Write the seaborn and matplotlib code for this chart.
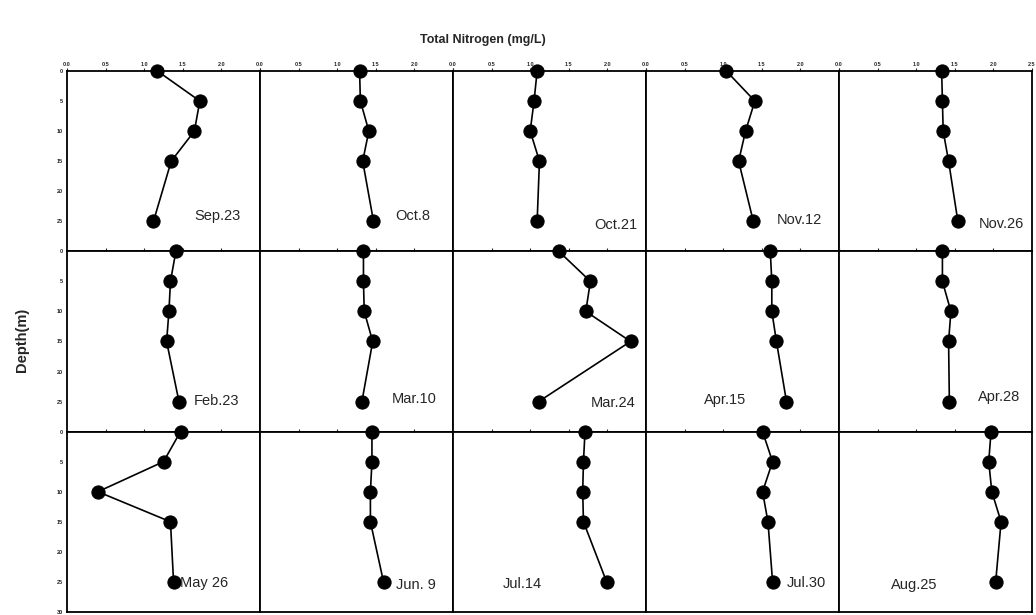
import numpy as np
import pandas as pd
import matplotlib
matplotlib.use("Agg")
import matplotlib.pyplot as plt
import seaborn as sns

# ---------------- data ----------------
depths = [0, 5, 10, 15, 25]

dates = ["Sep.23", "Oct.8", "Oct.21", "Nov.12", "Nov.26",
         "Feb.23", "Mar.10", "Mar.24", "Apr.15", "Apr.28",
         "May 26", "Jun. 9", "Jul.14", "Jul.30", "Aug.25"]

tn_sep23 = [1.17, 1.72, 1.65, 1.35, 1.12]
tn_oct8 = [1.29, 1.30, 1.41, 1.33, 1.47]
tn_oct21 = [1.09, 1.05, 1.00, 1.12, 1.09]
tn_nov12 = [1.04, 1.41, 1.29, 1.20, 1.39]
tn_nov26 = [1.33, 1.34, 1.35, 1.42, 1.54]
tn_feb23 = [1.41, 1.34, 1.32, 1.29, 1.45]
tn_mar10 = [1.34, 1.34, 1.35, 1.46, 1.32]
tn_mar24 = [1.37, 1.78, 1.72, 2.30, 1.11]
tn_apr15 = [1.61, 1.63, 1.63, 1.69, 1.82]
tn_apr28 = [1.34, 1.34, 1.45, 1.42, 1.43]
tn_may26 = [1.47, 1.25, 0.40, 1.34, 1.38]
tn_jun9 = [1.45, 1.45, 1.43, 1.43, 1.60]
tn_jul14 = [1.71, 1.69, 1.68, 1.69, 1.99]
tn_jul30 = [1.51, 1.64, 1.51, 1.58, 1.64]
tn_aug25 = [1.97, 1.94, 1.98, 2.10, 2.03]

series = [tn_sep23, tn_oct8, tn_oct21, tn_nov12, tn_nov26,
          tn_feb23, tn_mar10, tn_mar24, tn_apr15, tn_apr28,
          tn_may26, tn_jun9, tn_jul14, tn_jul30, tn_aug25]

# label anchor positions (data coords in each panel)
label_x = [1.95, 1.98, 2.11, 1.99, 2.10,
           1.94, 2.00, 2.08, 1.02, 2.07,
           1.78, 2.02, 0.90, 2.08, 0.97]
label_y = [24.2, 24.2, 25.7, 24.8, 25.4,
           24.9, 24.6, 25.2, 24.75, 24.3,
           25.25, 25.5, 25.3, 25.2, 25.5]

x_ticks = [0.0, 0.5, 1.0, 1.5, 2.0, 2.5]
y_ticks = [0, 5, 10, 15, 20, 25, 30]

# ---------------- plot ----------------
sns.set_style("white")
plt.rcParams['font.family'] = ['Liberation Sans', 'DejaVu Sans']

fig, axes = plt.subplots(3, 5, figsize=(10.36, 6.15), dpi=100,
                         gridspec_kw=dict(wspace=0, hspace=0))
fig.subplots_adjust(left=0.0647, right=0.9961, top=0.8846, bottom=0.005)

for i, ax in enumerate(axes.flat):
    r, c = divmod(i, 5)
    df = pd.DataFrame({"depth": depths, "tn": series[i]})
    sns.lineplot(data=df, x="tn", y="depth", sort=False, estimator=None,
                 color="black", lw=1.2, marker="o", markersize=9.5,
                 markeredgecolor="black", markerfacecolor="black", ax=ax,
                 clip_on=False, zorder=5)
    ax.set_xlim(0, 2.5)
    ax.set_ylim(30, 0)
    ax.set_xlabel("")
    ax.set_ylabel("")
    for s in ax.spines.values():
        s.set_linewidth(1.3)
        s.set_color("black")
    ax.xaxis.set_ticks_position("top")
    ax.set_xticks(x_ticks)
    ax.set_yticks(y_ticks)
    ax.tick_params(axis="both", direction="out", length=2, width=0.8,
                   pad=1, labelsize=4)
    if r == 0:
        labs = ["%.1f" % v for v in x_ticks]
        if c < 4:
            labs[-1] = ""
        ax.set_xticklabels(labs, fontweight="bold")
        ax.tick_params(axis="x", labeltop=True, labelbottom=False)
    else:
        ax.tick_params(axis="x", labeltop=False, labelbottom=False)
    if c == 0:
        ylabs = [str(v) for v in y_ticks]
        if r < 2:
            ylabs[-1] = ""
        ax.set_yticklabels(ylabs, fontweight="bold")
        ax.tick_params(axis="y", labelleft=True)
    else:
        ax.tick_params(axis="y", labelleft=False)
    ax.text(label_x[i], label_y[i], dates[i], ha="center", va="center",
            fontsize=10.5, zorder=6)

fig.text(0.466, 0.935, "Total Nitrogen (mg/L)", ha="center", va="center",
         fontsize=9, fontweight="bold")
fig.text(0.021, 0.447, "Depth(m)", ha="center", va="center",
         rotation=90, fontsize=10.5, fontweight="bold")

fig.savefig("out.png", dpi=100)
